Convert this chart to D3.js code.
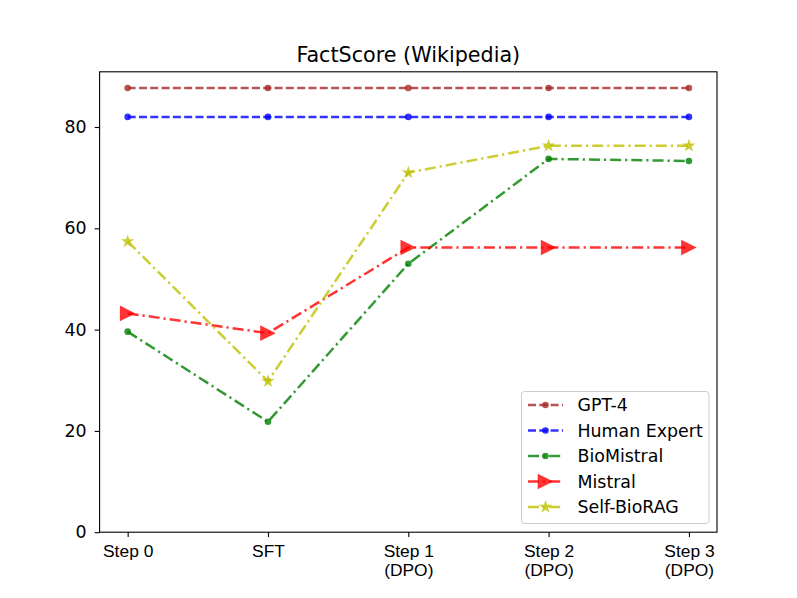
<!DOCTYPE html>
<html>
<head>
<meta charset="utf-8">
<script src="https://cdn.jsdelivr.net/npm/d3@7"></script>
<style>
  body { margin: 0; background: #fff; }
  svg { font-family: "DejaVu Sans", sans-serif; }
</style>
</head>
<body>
<div id="chart"></div>
<script>
var steps = ["Step 0", "SFT", "Step 1\n(DPO)", "Step 2\n(DPO)", "Step 3\n(DPO)"];
var gpt4 = [87.7, 87.7, 87.7, 87.7, 87.7];
var humanExpert = [82.0, 82.0, 82.0, 82.0, 82.0];
var bioMistral = [39.6, 21.8, 53.0, 73.7, 73.3];
var mistral = [43.2, 39.3, 56.2, 56.2, 56.2];
var selfBioRAG = [57.4, 29.8, 71.0, 76.3, 76.3];
var yTicks = [0, 20, 40, 60, 80];

var series = [
  {name: "GPT-4", values: gpt4, color: "brown", dash: "8,3.3", marker: "circle"},
  {name: "Human Expert", values: humanExpert, color: "blue", dash: "8,3.3", marker: "circle"},
  {name: "BioMistral", values: bioMistral, color: "green", dash: "11,4,2.2,4", marker: "circle"},
  {name: "Mistral", values: mistral, color: "red", dash: "11,4,2.2,4", marker: "triangle"},
  {name: "Self-BioRAG", values: selfBioRAG, color: "#bfbf00", dash: "11,4,2.2,4", marker: "star"}
];

var width = 797, height = 598;
var margin = {left: 99.6, right: 80, top: 71.8, bottom: 65.8};
var fontSize = 17.4;

var svg = d3.select('#chart').append('svg')
  .attr('width', width)
  .attr('height', height);

var x = d3.scaleLinear().domain([-0.2, 4.2]).range([margin.left, width - margin.right]);
var y = d3.scaleLinear().domain([0, 90.9]).range([height - margin.bottom, margin.top]);

// axes
var xAxis = d3.axisBottom(x).tickValues(d3.range(steps.length)).tickSize(4.9).tickFormat("");
var yAxis = d3.axisLeft(y).tickValues(yTicks).tickSize(4.9).tickFormat(d3.format("d"));

var gx = svg.append('g')
  .attr('transform', 'translate(0,' + (height - margin.bottom) + ')')
  .call(xAxis);
gx.select('.domain').remove();
gx.selectAll('.tick line').attr('stroke', '#000').attr('stroke-width', 1.1);
gx.selectAll('.tick').each(function(d) {
  var lines = steps[d].split("\n");
  var t = d3.select(this).append('text')
    .attr('fill', '#000')
    .attr('font-size', fontSize)
    .attr('text-anchor', 'middle')
    .attr('y', 24.5);
  lines.forEach(function(l, i) {
    t.append('tspan').attr('x', 0).attr('dy', i == 0 ? 0 : 19.5).text(l);
  });
});

var gy = svg.append('g')
  .attr('transform', 'translate(' + margin.left + ',0)')
  .call(yAxis);
gy.select('.domain').remove();
gy.selectAll('.tick line').attr('stroke', '#000').attr('stroke-width', 1.1);
gy.selectAll('.tick text').attr('font-size', fontSize).attr('fill', '#000').attr('x', -13)
  .attr('font-family', '"DejaVu Sans", sans-serif');

// lines
var line = d3.line().x((d, i) => x(i)).y(d => y(d));

function drawMarker(g, type, color, cx, cy) {
  if (type == "circle") {
    g.append('circle').attr('cx', cx).attr('cy', cy).attr('r', 3.3)
      .attr('fill', color).attr('fill-opacity', 0.8);
  } else if (type == "triangle") {
    var s = 7.8;
    g.append('path')
      .attr('d', 'M' + (cx + s) + ',' + cy + 'L' + (cx - s) + ',' + (cy - s) + 'L' + (cx - s) + ',' + (cy + s) + 'Z')
      .attr('fill', color).attr('fill-opacity', 0.8);
  } else if (type == "star") {
    var sym = d3.symbol().type(d3.symbolStar).size(55);
    g.append('path').attr('d', sym()).attr('transform', 'translate(' + cx + ',' + cy + ')')
      .attr('fill', color).attr('fill-opacity', 0.8);
  }
}

series.forEach(function(s) {
  var g = svg.append('g');
  g.append('path')
    .datum(s.values)
    .attr('d', line)
    .attr('fill', 'none')
    .attr('stroke', s.color)
    .attr('stroke-opacity', 0.8)
    .attr('stroke-width', 2.5)
    .attr('stroke-dasharray', s.dash);
  s.values.forEach(function(v, i) {
    drawMarker(g, s.marker, s.color, x(i), y(v));
  });
});

// frame
svg.append('rect')
  .attr('x', margin.left).attr('y', margin.top)
  .attr('width', width - margin.left - margin.right)
  .attr('height', height - margin.top - margin.bottom)
  .attr('fill', 'none').attr('stroke', '#000').attr('stroke-width', 1.1);

// title
svg.append('text')
  .attr('x', (margin.left + width - margin.right) / 2)
  .attr('y', 61.7)
  .attr('text-anchor', 'middle')
  .attr('font-size', 20.7)
  .text('FactScore (Wikipedia)');

// legend
var legend = svg.append('g');
legend.append('rect')
  .attr('x', 521.5).attr('y', 391.5)
  .attr('width', 187.5).attr('height', 132)
  .attr('rx', 3)
  .attr('fill', '#fff').attr('fill-opacity', 0.8)
  .attr('stroke', '#ccc').attr('stroke-width', 1);

series.forEach(function(s, i) {
  var ly = 405 + i * 25.5;
  legend.append('line')
    .attr('x1', 528).attr('x2', 563).attr('y1', ly).attr('y2', ly)
    .attr('stroke', s.color).attr('stroke-opacity', 0.8)
    .attr('stroke-width', 2.5).attr('stroke-dasharray', s.dash);
  drawMarker(legend, s.marker, s.color, 545.5, ly);
  legend.append('text')
    .attr('x', 577.5).attr('y', ly + 6.3)
    .attr('font-size', fontSize)
    .text(s.name);
});
</script>
</body>
</html>
